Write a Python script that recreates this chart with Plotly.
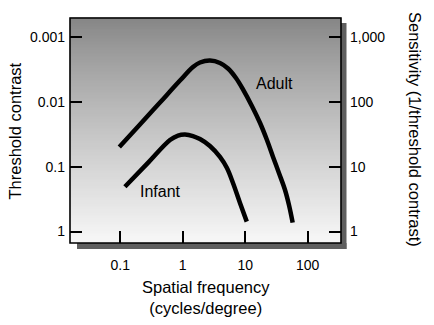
import plotly.graph_objects as go

# Contrast sensitivity functions (sensitivity = 1 / threshold contrast)
adult_freq = [0.0968, 0.207, 0.433, 0.905, 1.46, 1.89, 2.73, 3.95, 5.31, 7.12,
              9.22, 12.8, 17.3, 22.3, 27.9, 34.8, 43.4, 50.2, 57.5]
adult_sens = [20.0, 44.5, 97.2, 212, 343, 402, 431, 395, 325, 232,
              155, 86, 47, 25.7, 14.1, 7.9, 4.36, 2.56, 1.37]

infant_freq = [0.119, 0.273, 0.626, 0.841, 1.09, 1.46, 1.89, 2.73, 3.95, 5.11,
               6.38, 8.26, 10.6]
infant_sens = [4.90, 11.2, 25.7, 30.1, 31.2, 29.6, 26.6, 20.8, 14.1, 9.5,
               5.58, 2.75, 1.42]

freq_ticks = [0.1, 1, 10, 100]
freq_labels = ["0.1", "1", "10", "100"]
thresh_ticks = [0.001, 0.01, 0.1, 1]
thresh_labels = ["0.001", "0.01", "0.1", "1"]
sens_ticks = [1, 10, 100, 1000]
sens_labels = ["1", "10", "100", "1,000"]

FONT = "Liberation Sans"
W, H = 434, 325
L, R, T, B = 70, 93, 18, 82
pw, ph = W - L - R, H - T - B


def px(x):
    """page pixel x -> paper coordinate"""
    return (x - L) / pw


def py(y):
    """page pixel y (from top) -> paper coordinate"""
    return (H - B - y) / ph


fig = go.Figure()

line_style = dict(color="black", width=4.5, shape="spline", smoothing=1.0)
fig.add_trace(go.Scatter(x=adult_freq, y=adult_sens, mode="lines", line=line_style,
                         yaxis="y2", hoverinfo="skip", showlegend=False))
fig.add_trace(go.Scatter(x=infant_freq, y=infant_sens, mode="lines", line=line_style,
                         yaxis="y2", hoverinfo="skip", showlegend=False))
# empty trace so the threshold-contrast axis is drawn
fig.add_trace(go.Scatter(x=[None], y=[None], yaxis="y", hoverinfo="skip",
                         showlegend=False))

shapes = []
# vertical grey gradient behind the curves
n = 75
for i in range(n):
    t = (i + 0.5) / n  # 0 at top, 1 at bottom
    g = int(round(132 + (247 - 132) * t ** 0.85))
    shapes.append(dict(type="rect", xref="paper", yref="paper",
                       x0=0, x1=1, y0=1 - (i + 1) / n, y1=1 - i / n + 0.002,
                       fillcolor=f"rgb({g},{g},{g})", line=dict(width=0),
                       layer="below"))

# drop shadow on the right and bottom of the frame
shadow = "rgb(95,95,95)"
shapes.append(dict(type="rect", xref="paper", yref="paper",
                   x0=px(341), x1=px(346.5), y0=py(249), y1=py(23),
                   fillcolor=shadow, line=dict(width=0), layer="below"))
shapes.append(dict(type="rect", xref="paper", yref="paper",
                   x0=px(77), x1=px(346.5), y0=py(249), y1=py(243),
                   fillcolor=shadow, line=dict(width=0), layer="below"))
# frame
shapes.append(dict(type="rect", xref="paper", yref="paper", x0=0, x1=1, y0=0, y1=1,
                   line=dict(color="black", width=1.6), fillcolor="rgba(0,0,0,0)",
                   layer="above"))

tickfont = dict(family=FONT, size=14, color="black")
axis_common = dict(type="log", ticks="inside", ticklen=12, tickwidth=1.6,
                   tickcolor="black", showgrid=False, zeroline=False,
                   showline=False, tickfont=tickfont)

title_font = dict(family=FONT, size=16.5, color="black")

fig.update_layout(
    width=W, height=H,
    margin=dict(l=L, r=R, t=T, b=B),
    paper_bgcolor="white",
    plot_bgcolor="white",
    shapes=shapes,
    xaxis=dict(range=[-1.803, 2.533], tickvals=freq_ticks, ticktext=freq_labels,
               ticklabelstandoff=12, **axis_common),
    yaxis=dict(range=[0.177, -3.29], tickvals=thresh_ticks, ticktext=thresh_labels,
               ticklabelstandoff=4, **axis_common),
    yaxis2=dict(range=[-0.177, 3.29], tickvals=sens_ticks, ticktext=sens_labels,
                overlaying="y", side="right", ticklabelstandoff=8, **axis_common),
    annotations=[
        dict(text="Adult", x=1.472, y=2.288, xref="x", yref="y2", showarrow=False,
             xanchor="center", yanchor="middle",
             font=dict(family=FONT, size=16, color="black")),
        dict(text="Infant", x=-0.355, y=0.609, xref="x", yref="y2", showarrow=False,
             xanchor="center", yanchor="middle",
             font=dict(family=FONT, size=16, color="black")),
        dict(text="Threshold contrast", textangle=-90, x=px(14.5), y=py(131),
             xref="paper", yref="paper", showarrow=False,
             xanchor="center", yanchor="middle", font=title_font),
        dict(text="Sensitivity (1/threshold contrast)", textangle=90, x=px(415),
             y=py(129), xref="paper", yref="paper", showarrow=False,
             xanchor="center", yanchor="middle", font=title_font),
        dict(text="Spatial frequency<br>(cycles/degree)", x=px(206), y=py(297),
             xref="paper", yref="paper", showarrow=False,
             xanchor="center", yanchor="middle", font=title_font),
    ],
)

fig.write_html("out.html")
